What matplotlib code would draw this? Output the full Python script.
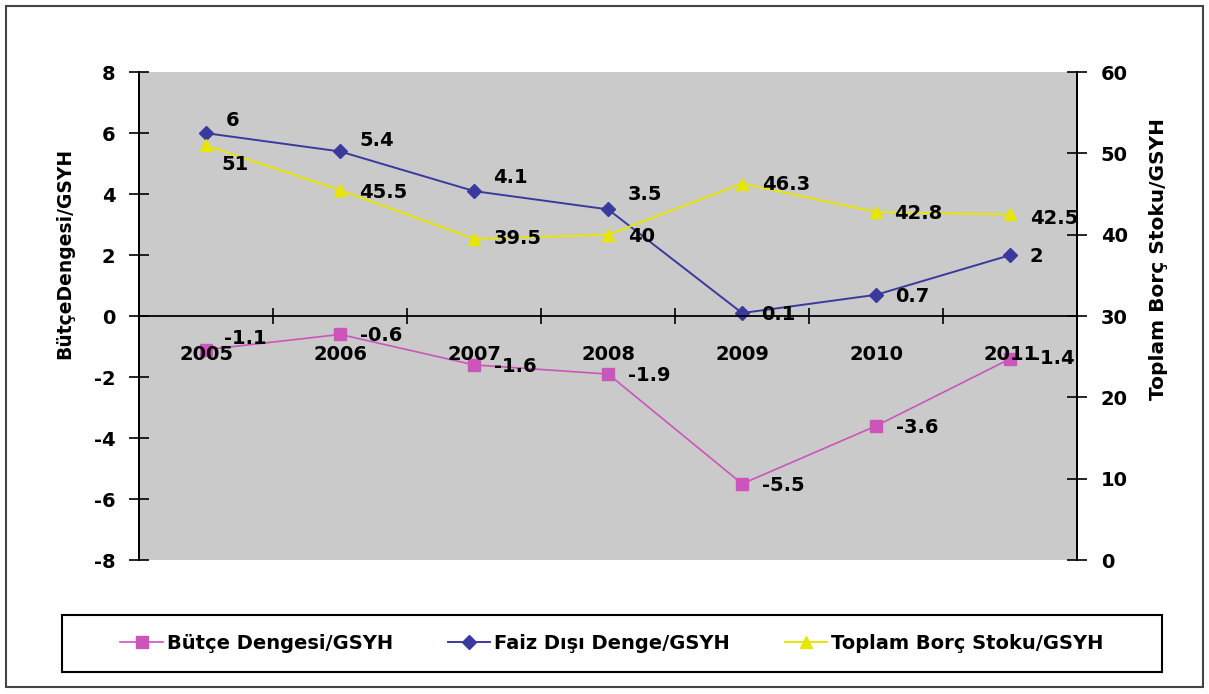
import matplotlib
matplotlib.use('Agg')
import matplotlib.pyplot as plt
from matplotlib.patches import Rectangle

plt.rcParams['font.family'] = ['DejaVu Sans']
plt.rcParams['font.weight'] = 'bold'
plt.rcParams['axes.unicode_minus'] = False

# ==========================================
# DATA
# ==========================================
years = ['2005', '2006', '2007', '2008', '2009', '2010', '2011']
butce = [-1.1, -0.6, -1.6, -1.9, -5.5, -3.6, -1.4]
faiz_disi = [6, 5.4, 4.1, 3.5, 0.1, 0.7, 2]
borc_stoku = [51, 45.5, 39.5, 40, 46.3, 42.8, 42.5]

butce_name = 'Bütçe Dengesi/GSYH'
faiz_name = 'Faiz Dışı Denge/GSYH'
borc_name = 'Toplam Borç Stoku/GSYH'

# label offsets in points (dx, dy) for each point
butce_off = [(13, 8), (14, -1), (14, -1), (14, -1), (14, -1), (14, -1), (16, 0)]
faiz_off = [(14, 9), (14, 8), (14, 10), (14, 11), (14, -1), (14, -1), (14, -1)]
borc_off = [(11, -14), (14, -2), (14, 0), (14, -1), (14, -1), (13, -1), (14, -3)]

c_butce = '#CC55BB'
c_faiz = '#3A3A9E'
c_borc = '#E6E600'

fig = plt.figure(figsize=(12.09, 6.94), dpi=100)
ax = fig.add_axes([0.115, 0.193, 0.776, 0.703])
ax2 = ax.twinx()

x = list(range(len(years)))

l1, = ax.plot(x, butce, color=c_butce, marker='s', markersize=9, lw=1.2)
l2, = ax.plot(x, faiz_disi, color=c_faiz, marker='D', markersize=7, lw=1.4)
l3, = ax2.plot(x, borc_stoku, color=c_borc, marker='^', markersize=9, lw=1.4)

for xi, v, (dx, dy) in zip(x, butce, butce_off):
    ax.annotate(f'{v:g}', (xi, v), xytext=(dx, dy), textcoords='offset points',
                ha='left', va='center', fontsize=14, fontweight='bold')
for xi, v, (dx, dy) in zip(x, faiz_disi, faiz_off):
    ax.annotate(f'{v:g}', (xi, v), xytext=(dx, dy), textcoords='offset points',
                ha='left', va='center', fontsize=14, fontweight='bold')
for xi, v, (dx, dy) in zip(x, borc_stoku, borc_off):
    ax2.annotate(f'{v:g}', (xi, v), xytext=(dx, dy), textcoords='offset points',
                 ha='left', va='center', fontsize=14, fontweight='bold')

ax.set_facecolor('#CACACA')
ax.set_xlim(-0.5, len(years) - 0.5)
ax.set_ylim(-8, 8)
ax.set_yticks(range(-8, 9, 2))
ax2.set_ylim(0, 60)
ax2.set_yticks(range(0, 61, 10))

# category axis crossing at zero
ax.spines['bottom'].set_position(('data', 0))
ax.spines['top'].set_visible(False)
ax2.spines['top'].set_visible(False)
ax2.spines['bottom'].set_visible(False)
for a in (ax, ax2):
    for s in a.spines.values():
        s.set_linewidth(1.3)
ax.set_xticks([i + 0.5 for i in x[:-1]])
ax.set_xticklabels([])
ax.tick_params(axis='x', direction='inout', length=12, width=1.2)
for xi, yr in zip(x, years):
    ax.text(xi, -1.25, yr, ha='center', va='center', fontsize=14, fontweight='bold')

ax.tick_params(axis='y', direction='inout', length=14, width=1.2, labelsize=14, pad=10)
ax2.tick_params(axis='y', direction='inout', length=14, width=1.2, labelsize=14, pad=10)
for lab in ax.get_yticklabels() + ax2.get_yticklabels():
    lab.set_fontweight('bold')

fig.text(65 / 1209, 1 - 253 / 694, 'BütçeDengesi/GSYH', rotation=90, ha='center',
         va='center', fontsize=13.5, fontweight='bold')
fig.text(1158 / 1209, 1 - 259 / 694, 'Toplam Borç Stoku/GSYH', rotation=90, ha='center',
         va='center', fontsize=14.5, fontweight='bold')

# legend box drawn separately, entries centred in it
box = (62 / 1209, 1 - 672 / 694, 1100 / 1209, 57 / 694)
fig.patches.append(Rectangle(box[:2], box[2], box[3], transform=fig.transFigure,
                             fill=False, edgecolor='black', linewidth=1.5))
fig.legend([l1, l2, l3], [butce_name, faiz_name, borc_name], ncol=3,
           loc='center', bbox_to_anchor=(box[0] + box[2] / 2, box[1] + box[3] / 2),
           frameon=False, prop={'weight': 'bold', 'size': 14}, handlelength=2.2,
           handletextpad=0.2, columnspacing=2.8)

fig.patches.append(Rectangle((0.005, 0.01), 0.99, 0.982, transform=fig.transFigure,
                             fill=False, edgecolor='#444444', linewidth=1.5))

fig.savefig('out.png', dpi=100)
